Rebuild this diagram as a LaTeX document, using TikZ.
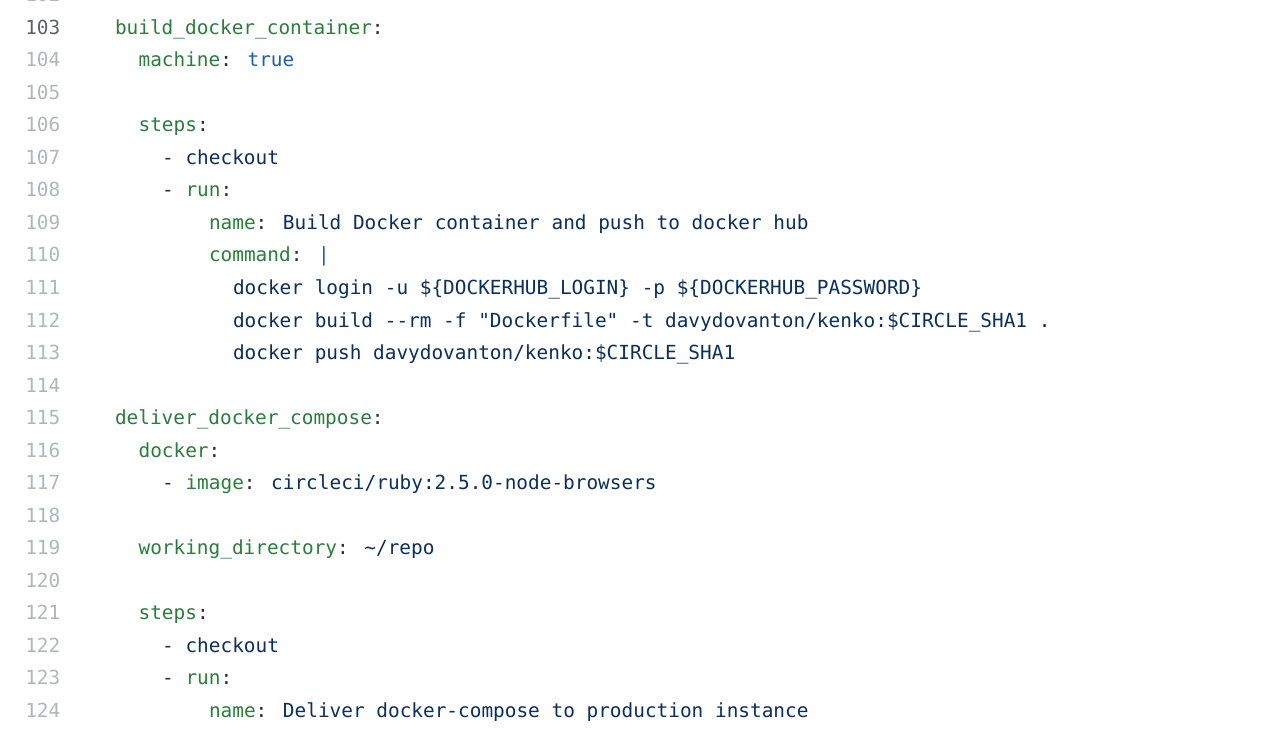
\documentclass[tikz,border=0pt]{standalone}
\usepackage{fontspec}
\newfontfamily\codefont{DejaVu Sans Mono}
\definecolor{ykey}{HTML}{2A7E3B}
\definecolor{yval}{HTML}{0B2F5E}
\definecolor{ybool}{HTML}{1F5DB8}
\definecolor{ypun}{HTML}{2B2F35}
\definecolor{lnum}{HTML}{B2B6BA}
\definecolor{lnumact}{HTML}{5E6268}
\newcommand{\yK}[1]{\textcolor{ykey}{#1}}
\newcommand{\yV}[1]{\textcolor{yval}{#1}}
\newcommand{\yP}[1]{\textcolor{ypun}{#1}}
\newcommand{\yB}[1]{\textcolor{ybool}{#1}}
\begin{document}
\begin{tikzpicture}[x=1pt,y=-1pt,
  code/.style={anchor=base west,inner sep=0pt,font=\codefont\fontsize{19.4}{22}\selectfont},
  num/.style={anchor=base east,inner sep=0pt,font=\codefont\fontsize{19.4}{22}\selectfont,text=lnum}]
\useasboundingbox (0,0) rectangle (1280,732);
\clip (0,0) rectangle (1280,732);
\fill[white] (0,0) rectangle (1280,732);
% line numbers
\node[num] (n102) at (60.5,1.8) {102};
\node[num,text=lnumact] (n103) at (60.5,34.3) {103};
\node[num] (n104) at (60.5,66.8) {104};
\node[num] (n105) at (60.5,99.3) {105};
\node[num] (n106) at (60.5,131.9) {106};
\node[num] (n107) at (60.5,164.4) {107};
\node[num] (n108) at (60.5,196.9) {108};
\node[num] (n109) at (60.5,229.4) {109};
\node[num] (n110) at (60.5,261.9) {110};
\node[num] (n111) at (60.5,294.5) {111};
\node[num] (n112) at (60.5,327.0) {112};
\node[num] (n113) at (60.5,359.5) {113};
\node[num] (n114) at (60.5,392.0) {114};
\node[num] (n115) at (60.5,424.5) {115};
\node[num] (n116) at (60.5,457.1) {116};
\node[num] (n117) at (60.5,489.6) {117};
\node[num] (n118) at (60.5,522.1) {118};
\node[num] (n119) at (60.5,554.6) {119};
\node[num] (n120) at (60.5,587.2) {120};
\node[num] (n121) at (60.5,619.7) {121};
\node[num] (n122) at (60.5,652.2) {122};
\node[num] (n123) at (60.5,684.7) {123};
\node[num] (n124) at (60.5,717.2) {124};
% code
\node[code] (t103) at (114.8,34.3) {\yK{build\_docker\_container}\yP{:}};
\node[code] (t104) at (138.4,66.8) {\yK{machine}\yP{:} \yB{true}};
\node[code] (t106) at (138.4,131.9) {\yK{steps}\yP{:}};
\node[code] (t107) at (162.0,164.4) {\yP{-} \yV{checkout}};
\node[code] (t108) at (162.0,196.9) {\yP{-} \yK{run}\yP{:}};
\node[code] (t109) at (208.8,229.4) {\yK{name}\yP{:} \yV{Build Docker container and push to docker hub}};
\node[code] (t110) at (208.8,261.9) {\yK{command}\yP{:} \yB{|}};
\node[code] (t111) at (232.8,294.5) {\yV{docker login -u \$\{DOCKERHUB\_LOGIN\} -p \$\{DOCKERHUB\_PASSWORD\}}};
\node[code] (t112) at (232.8,327.0) {\yV{docker build -{}-rm -f "Dockerfile" -t davydovanton/kenko:\$CIRCLE\_SHA1 .}};
\node[code] (t113) at (232.8,359.5) {\yV{docker push davydovanton/kenko:\$CIRCLE\_SHA1}};
\node[code] (t115) at (114.8,424.5) {\yK{deliver\_docker\_compose}\yP{:}};
\node[code] (t116) at (138.4,457.1) {\yK{docker}\yP{:}};
\node[code] (t117) at (162.0,489.6) {\yP{-} \yK{image}\yP{:} \yV{circleci/ruby:2.5.0-node-browsers}};
\node[code] (t119) at (138.4,554.6) {\yK{working\_directory}\yP{:} \yV{\textasciitilde/repo}};
\node[code] (t121) at (138.4,619.7) {\yK{steps}\yP{:}};
\node[code] (t122) at (162.0,652.2) {\yP{-} \yV{checkout}};
\node[code] (t123) at (162.0,684.7) {\yP{-} \yK{run}\yP{:}};
\node[code] (t124) at (208.8,717.2) {\yK{name}\yP{:} \yV{Deliver docker-compose to production instance}};
\end{tikzpicture}
\end{document}
